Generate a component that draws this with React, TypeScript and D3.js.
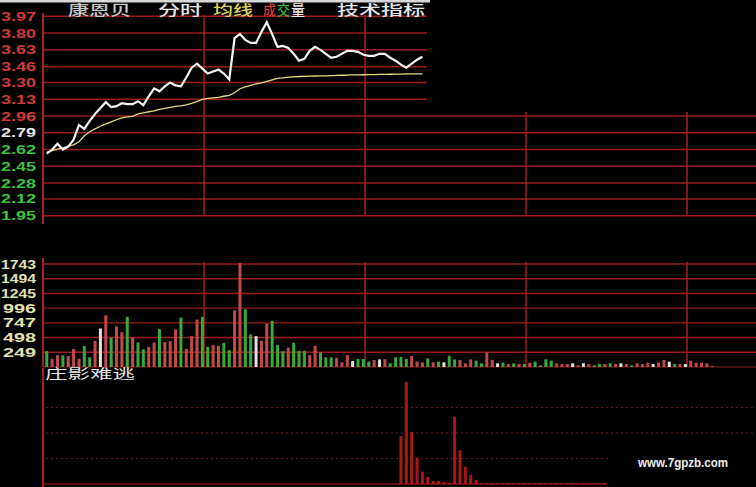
import React, { useEffect } from "react";
import * as d3 from "d3";

// price axis labels (top to bottom) and volume axis labels
const priceTicks = ["3.97", "3.80", "3.63", "3.46", "3.30", "3.13", "2.96", "2.79", "2.62", "2.45", "2.28", "2.12", "1.95"];
const prevClose = "2.79";
const volumeTicks = [1743, 1494, 1245, 996, 747, 498, 249];
const indicatorGrid = [25, 50, 75];

// 2-minute samples
const price = [
  2.58, 2.62, 2.68, 2.62, 2.65, 2.72, 2.87, 2.83, 2.91, 2.98, 3.04, 3.1, 3.05, 3.06, 3.09, 3.08, 3.08, 3.11, 3.07, 3.16,
  3.24, 3.21, 3.26, 3.3, 3.27, 3.26, 3.35, 3.45, 3.49, 3.44, 3.39, 3.41, 3.43, 3.39, 3.33, 3.75, 3.79, 3.73, 3.7, 3.7,
  3.81, 3.91, 3.79, 3.66, 3.67, 3.65, 3.59, 3.52, 3.54, 3.62, 3.66, 3.63, 3.59, 3.55, 3.56, 3.59, 3.62, 3.62, 3.61, 3.58,
  3.57, 3.57, 3.59, 3.59, 3.55, 3.52, 3.48, 3.45, 3.49, 3.53, 3.56,
];
const avgPrice = [
  2.592, 2.61, 2.625, 2.638, 2.655, 2.668, 2.699, 2.759, 2.8, 2.83, 2.856, 2.881, 2.901, 2.922, 2.942, 2.952, 2.957,
  2.982, 2.992, 3.003, 3.013, 3.028, 3.038, 3.048, 3.058, 3.063, 3.073, 3.089, 3.109, 3.129, 3.139, 3.144, 3.149, 3.16,
  3.17, 3.195, 3.236, 3.256, 3.271, 3.286, 3.296, 3.312, 3.327, 3.342, 3.347, 3.354, 3.357, 3.36, 3.362, 3.364, 3.365,
  3.367, 3.367, 3.369, 3.371, 3.373, 3.375, 3.377, 3.377, 3.378, 3.379, 3.38, 3.381, 3.382, 3.383, 3.384, 3.385, 3.386,
  3.387, 3.387, 3.387,
];
const volume = [
  269, 140, 200, 197, 185, 303, 140, 354, 163, 443, 651, 875, 493, 690, 589, 847, 500, 416, 298, 342, 416, 640, 421, 438,
  635, 837, 308, 522, 803, 847, 342, 370, 359, 409, 286, 960, 1760, 976, 550, 522, 443, 735, 780, 370, 269, 331, 409,
  274, 274, 202, 359, 247, 163, 163, 157, 79, 202, 101, 135, 135, 90, 118, 129, 135, 62, 163, 174, 135, 185, 90, 79, 146,
  79, 90, 79, 191, 129, 118, 62, 129, 107, 62, 247, 118, 62, 73, 50, 62, 50, 50, 73, 90, 28, 129, 107, 62, 50, 50, 62,
  28, 62, 50, 28, 50, 50, 62, 50, 62, 50, 28, 62, 50, 73, 50, 73, 118, 90, 50, 50, 50, 107, 73, 73, 62, 17,
];
// r = up, g = down, w = flat
const volumeDir =
  "grrgrrrggr" + "wrgrrgrggr" + "rgrrrgrrrg" + "grrggrrg" +
  "gwrrgggrgg" + "grrgggrrrw" + "gggrwrgggg" + "rrrgrgwggr" + "rrggr" +
  "rwgrgrgrgg" + "ggrrrwrwrg" + "grgrwrgrrr" + "wrrwgrwrrr" + "rr";
// 庄影难逃 indicator: first index and values
const indicatorStart = 66;
const indicator = [
  47, 100, 51, 26, 12, 7, 3, 3, 2, 1.5, 66, 33, 17, 9, 4, 1, 1, 1, 1, 1, 1, 1, 1, 1, 1, 1, 1, 1, 1, 1, 1, 1, 1, 1, 1, 1,
  1, 1, 1,
];

const W = 756;
const H = 487;
const GRID = "#9a1c1c";
const UP = "#c24a4a";
const DOWN = "#3aa83a";
const FLAT = "#e0e0e0";

const App = () => {
  useEffect(() => {
    document.body.style.margin = "0";
    document.body.style.background = "#000";
  }, []);

  const minutes = d3.scaleLinear().domain([0, 240]).range([43, 687]);
  const bx = (i: number) => minutes(2 * i + 1.4);
  const hourLines = [0, 60, 120, 180, 240];

  const py = d3.scaleLinear().domain([1.95, 3.97]).range([215.7, 16.3]);
  const vy = d3.scaleLinear().domain([0, 1743]).range([367, 264]);
  const iy = d3.scaleLinear().domain([0, 100]).range([484, 382]);

  const line = d3
    .line<number>()
    .x((_, i) => bx(i))
    .y((d) => py(d));

  const tickColor = (t: string, i: number) => {
    const k = priceTicks.indexOf(prevClose);
    if (i < k) return "#d03a3a";
    if (i === k) return "#e6e6e6";
    return "#3cc23c";
  };

  const numFont = "'Liberation Sans', Arial, sans-serif";
  const cjk = "'Noto Sans CJK SC', sans-serif";

  return (
    <svg width={W} height={H} style={{ display: "block", background: "#000" }}>
      <rect width={W} height={H} fill="#000" />

      {/* price grid */}
      {priceTicks.map((t) => (
        <line key={t} x1={43} x2={W} y1={py(+t)} y2={py(+t)} stroke={GRID} strokeWidth={1.5} />
      ))}
      {hourLines.map((m, i) => (
        <line
          key={"pv" + m}
          x1={minutes(m)}
          x2={minutes(m)}
          y1={i === 0 ? 13 : 15}
          y2={i === 0 ? 224 : 216}
          stroke={i === 0 ? "#a02424" : "#a81c1c"}
          strokeWidth={i === 0 ? 2 : 1.5}
        />
      ))}
      {priceTicks.map((t, i) => (
        <text
          key={"pl" + t}
          x={1}
          y={py(+t) + 4.5}
          textLength={35}
          lengthAdjust="spacingAndGlyphs"
          fontFamily={numFont}
          fontWeight="bold"
          fontSize={12}
          fill={tickColor(t, i)}
        >
          {t}
        </text>
      ))}

      <path d={line(avgPrice) || ""} fill="none" stroke="#e4dc7c" strokeWidth={1.3} />
      <path d={line(price) || ""} fill="none" stroke="#f4f4f4" strokeWidth={2.2} strokeLinejoin="miter" />

      {/* the top-right part of the screenshot is blank */}
      <rect x={427} y={0} width={W - 427} height={112} fill="#000" />
      <rect x={0} y={0} width={430} height={2.5} fill="#d8d8d8" />

      {/* header */}
      <g fontFamily={cjk} fontSize={14} fontWeight={500}>
        <text x={68} y={15} textLength={63} lengthAdjust="spacingAndGlyphs" fill="#c8c8c8">康恩贝</text>
        <text x={158} y={15} textLength={44} lengthAdjust="spacingAndGlyphs" fill="#e6e6e6">分时</text>
        <text x={213} y={15} textLength={40} lengthAdjust="spacingAndGlyphs" fill="#d8d45a">均线</text>
        <text x={263} y={15} textLength={13} lengthAdjust="spacingAndGlyphs" fill="#d83a3a">成</text>
        <text x={277} y={15} textLength={13} lengthAdjust="spacingAndGlyphs" fill="#3cb83c">交</text>
        <text x={291} y={15} textLength={14} lengthAdjust="spacingAndGlyphs" fill="#e6e6e6">量</text>
        <text x={337} y={15} textLength={88} lengthAdjust="spacingAndGlyphs" fill="#e6e6e6">技术指标</text>
      </g>

      {/* volume grid */}
      {volumeTicks.map((v) => (
        <line key={"vg" + v} x1={43} x2={W} y1={vy(v)} y2={vy(v)} stroke={GRID} strokeWidth={1.4} />
      ))}
      <line x1={43} x2={W} y1={vy(0)} y2={vy(0)} stroke="#8a1a1a" strokeWidth={1.2} />
      {hourLines.map((m, i) => (
        <line
          key={"vv" + m}
          x1={minutes(m)}
          x2={minutes(m)}
          y1={i === 0 ? 258 : 262}
          y2={367}
          stroke={i === 0 ? "#a02424" : "#a81c1c"}
          strokeWidth={i === 0 ? 2 : 1.5}
        />
      ))}
      {volumeTicks.map((v) => {
        const s = String(v);
        const len = s.length > 3 ? 35 : 33;
        return (
          <text
            key={"vl" + v}
            x={36 - len}
            y={vy(v) + 4.5}
            textLength={len}
            lengthAdjust="spacingAndGlyphs"
            fontFamily={numFont}
            fontWeight="bold"
            fontSize={12}
            fill="#e2e2b0"
          >
            {s}
          </text>
        );
      })}
      {volume.map((v, i) => {
        const d = volumeDir[i];
        const c = d === "r" ? UP : d === "g" ? DOWN : FLAT;
        return <rect key={"vb" + i} x={bx(i) - 1.5} y={vy(v)} width={3} height={vy(0) - vy(v)} fill={c} />;
      })}

      {/* 庄影难逃 panel */}
      <line x1={minutes(0)} x2={minutes(0)} y1={368} y2={H} stroke="#a02424" strokeWidth={2} />
      {indicatorGrid.map((g, i) => (
        <line
          key={"ig" + g}
          x1={46}
          x2={i === 0 ? 608 : W}
          y1={iy(g)}
          y2={iy(g)}
          stroke="#6a1a1a"
          strokeWidth={1}
          strokeDasharray="2 3"
        />
      ))}
      <line x1={43} x2={bx(indicatorStart + indicator.length - 1) + 1.5} y1={iy(0)} y2={iy(0)} stroke="#8a1616" strokeWidth={1.5} />
      {indicator.map((v, k) => {
        const i = indicatorStart + k;
        return (
          <rect key={"ib" + i} x={bx(i) - 1.5} y={iy(v)} width={3} height={iy(0) - iy(v)} fill="#a81616" />
        );
      })}
      <text x={45} y={378} textLength={90} lengthAdjust="spacingAndGlyphs" fontFamily={cjk} fontSize={13} fill="#e6e6e6">
        庄影难逃
      </text>

      <text
        x={638}
        y={467}
        textLength={90}
        lengthAdjust="spacingAndGlyphs"
        fontFamily={numFont}
        fontWeight="bold"
        fontSize={12}
        fill="#f0f0f0"
      >
        www.7gpzb.com
      </text>
    </svg>
  );
};

export default App;
